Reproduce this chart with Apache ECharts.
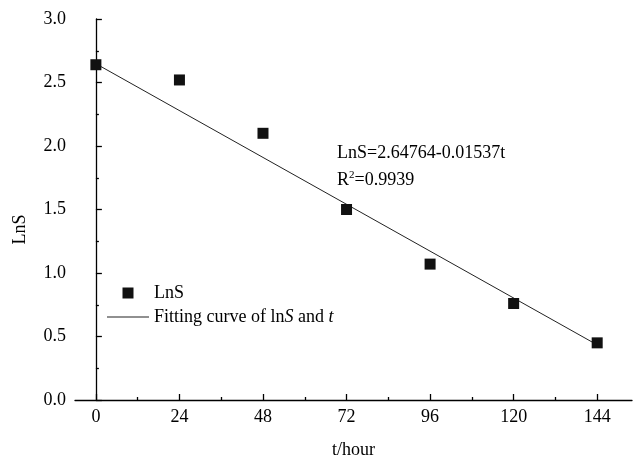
<!DOCTYPE html>
<html>
<head>
<meta charset="utf-8">
<script src="https://cdn.jsdelivr.net/npm/echarts@6/dist/echarts.min.js"></script>
<style>
  html, body { margin: 0; padding: 0; background: #fff; }
  #main { width: 633px; height: 459px; }
</style>
</head>
<body>
<div id="main"></div>
<script>
var hours = [0, 24, 48, 72, 96, 120, 144];
var lnS = [2.64, 2.52, 2.10, 1.50, 1.07, 0.76, 0.45];
var fitHours = [0, 144];
var fitLnS = [2.648, 0.434];
var xMajorTicks = [0, 24, 48, 72, 96, 120, 144];
var xMinorTicks = [12, 36, 60, 84, 108, 132];
var fitName = 'Fitting curve of lnS and t';

var serif = '"Liberation Serif", "Times New Roman", serif';

function pairs(xs, ys) {
  var out = [];
  for (var i = 0; i < xs.length; i++) out.push([xs[i], ys[i]]);
  return out;
}

var chart = echarts.init(document.getElementById('main'));
chart.setOption({
  animation: false,
  backgroundColor: '#fff',
  grid: { left: 75, right: 1, top: 19, bottom: 59, outerBoundsMode: 'none' },
  legend: {
    orient: 'vertical',
    left: 102,
    top: 279,
    itemWidth: 42,
    itemHeight: 11,
    itemGap: 6,
    data: [
      { name: 'LnS', icon: 'path://M0,0H10V10H0Z' },
      { name: fitName, icon: 'path://M0,0H42V1H0Z' }
    ],
    formatter: function (name) {
      if (name === fitName) return 'Fitting curve of ln{i|S} and {i|t}';
      return name;
    },
    textStyle: {
      fontFamily: serif, fontSize: 18, color: '#000',
      rich: { i: { fontFamily: serif, fontSize: 18, fontStyle: 'italic', color: '#000' } }
    }
  },
  xAxis: [
    {
      type: 'value',
      min: -6,
      max: 154,
      name: 't/hour',
      nameLocation: 'middle',
      nameGap: 41,
      nameTextStyle: { fontFamily: serif, fontSize: 18, color: '#000' },
      axisLine: { lineStyle: { color: '#000', width: 1.3 } },
      axisTick: { inside: true, length: 6, customValues: xMajorTicks, lineStyle: { color: '#000', width: 1.3 } },
      axisLabel: { customValues: xMajorTicks, margin: 8, fontFamily: serif, fontSize: 18, color: '#000' },
      splitLine: { show: false }
    },
    {
      type: 'value',
      min: -6,
      max: 154,
      position: 'bottom',
      axisLine: { show: false },
      axisTick: { inside: true, length: 3, customValues: xMinorTicks, lineStyle: { color: '#000', width: 1.3 } },
      axisLabel: { show: false },
      splitLine: { show: false }
    }
  ],
  yAxis: {
    type: 'value',
    min: 0,
    max: 3,
    interval: 0.5,
    name: 'LnS',
    nameLocation: 'middle',
    nameGap: 46,
    nameTextStyle: { fontFamily: serif, fontSize: 18, color: '#000', padding: [0, 40, 0, 0] },
    axisLine: { show: true, lineStyle: { color: '#000', width: 1.3 } },
    axisTick: { inside: true, length: 6, lineStyle: { color: '#000', width: 1.3 } },
    minorTick: { show: true, splitNumber: 2, length: 3, lineStyle: { color: '#000', width: 1.3 } },
    axisLabel: {
      margin: 9, fontFamily: serif, fontSize: 18, color: '#000',
      formatter: function (v) { return v.toFixed(1); }
    },
    splitLine: { show: false }
  },
  graphic: [
    {
      type: 'text', left: 337, top: 144,
      style: { text: 'LnS=2.64764-0.01537t', fontFamily: serif, fontSize: 18, fill: '#000' }
    },
    {
      type: 'text', left: 337, top: 170,
      style: {
        text: '{a|R}{s|2}{a|=0.9939}',
        rich: {
          a: { fontFamily: serif, fontSize: 18, fill: '#000', color: '#000' },
          s: { fontFamily: serif, fontSize: 11, fill: '#000', color: '#000', padding: [0, 0, 9, 0] }
        }
      }
    }
  ],
  series: [
    {
      name: 'LnS',
      type: 'scatter',
      symbol: 'rect',
      symbolSize: 11,
      itemStyle: { color: '#111', opacity: 1 },
      data: pairs(hours, lnS),
      z: 3
    },
    {
      name: fitName,
      type: 'line',
      symbol: 'none',
      lineStyle: { color: '#222', width: 1 },
      itemStyle: { color: '#222' },
      data: pairs(fitHours, fitLnS),
      z: 2
    }
  ]
});
</script>
</body>
</html>
